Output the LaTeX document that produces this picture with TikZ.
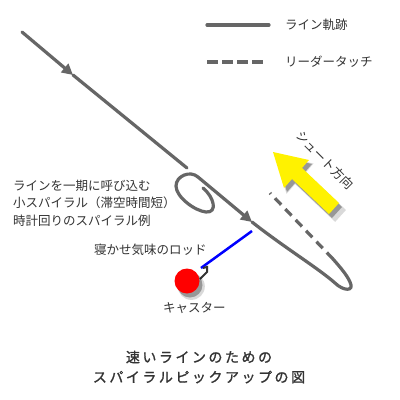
\documentclass[tikz,border=0pt]{standalone}
\usepackage{fontspec}
\newfontfamily\jp{Noto Sans CJK JP}
\newfontfamily\jptitle[LetterSpace=18,FakeBold=1.2]{Noto Sans CJK JP}
\usetikzlibrary{arrows.meta,shadows}
\definecolor{linegray}{HTML}{666666}
\definecolor{ink}{HTML}{333333}
\tikzset{
  trail/.style={draw=linegray, line width=3.2pt, line cap=round},
  touch/.style={draw=linegray, line width=3.2pt, dash pattern=on 9pt off 6pt},
  tip/.style={-{Triangle[length=11pt,width=11pt]}},
  lbl/.style={text=ink, inner sep=0pt, font=\jp\fontsize{12.5}{17.5}\selectfont},
  softshadow/.style={
    general shadow={shadow xshift=4pt, shadow yshift=-5pt, shadow scale=1.08, fill=black, opacity=0.15},
    general shadow={shadow xshift=3pt, shadow yshift=-4pt, fill=black, opacity=0.3}}
}

\begin{document}
\begin{tikzpicture}[x=1pt,y=-1pt]
\useasboundingbox (0,0) rectangle (400,400);
\fill[white] (0,0) rectangle (400,400);

%legend
\draw[trail] (207,25) -- (269,25);
\node[lbl, anchor=west] (leg1) at (285,25) {ライン軌跡};
\draw[draw=linegray, line width=3.2pt, dash pattern=on 11pt off 4pt] (207,62) -- (266,62);
\node[lbl, anchor=west] (leg2) at (285,62) {リーダータッチ};

%incoming line
\draw[trail, tip] (22,32) -- (73,75);
\draw[trail] (73,75) -- (187,168);

%small spiral
\draw[trail] (203,188) .. controls (214,197) and (218,213) .. (206,212)
  .. controls (195,211) and (176,197) .. (176,186)
  .. controls (176,176) and (190,170) .. (198,177);
\draw[trail, tip] (198,177) -- (252,222);
\draw[trail] (252,222) .. controls (285,248) and (318,268) .. (335,283)
  .. controls (343,291) and (355,292) .. (350,282)
  .. controls (347,275) and (340,267) .. (333,259);
\draw[touch] (333,259) -- (270,193);

%shoot direction
\fill[yellow, softshadow] (273,152) -- (309,160) -- (302,168) -- (339,203)
  -- (329,214) -- (292,179) -- (284,188) -- cycle;
\node[lbl, rotate=-45] (shoot) at (325,160) {シュート方向};

%rod and caster
\draw[blue, line width=2.5pt] (201,268) -- (252,231);
\draw[ink, line width=2pt] (203,268) -- (207,267) -- (207,272) -- (200,279);
\fill[red, softshadow] (187,281) circle (12.5pt);

%labels
\node[lbl, anchor=west, align=left] (spiral) at (13,203) {ラインを一期に呼び込む\\小スパイラル（滞空時間短）\\時計回りのスパイラル例};
\node[lbl, anchor=west] (rod) at (94,250) {寝かせ気味のロッド};
\node[lbl, anchor=west] (caster) at (163,308) {キャスター};
\node[text=ink, inner sep=0pt, align=center, font=\jptitle\fontsize{14}{20}\selectfont] (title) at (199,367) {速いラインのための\\スパイラルピックアップの図};
\end{tikzpicture}
\end{document}
